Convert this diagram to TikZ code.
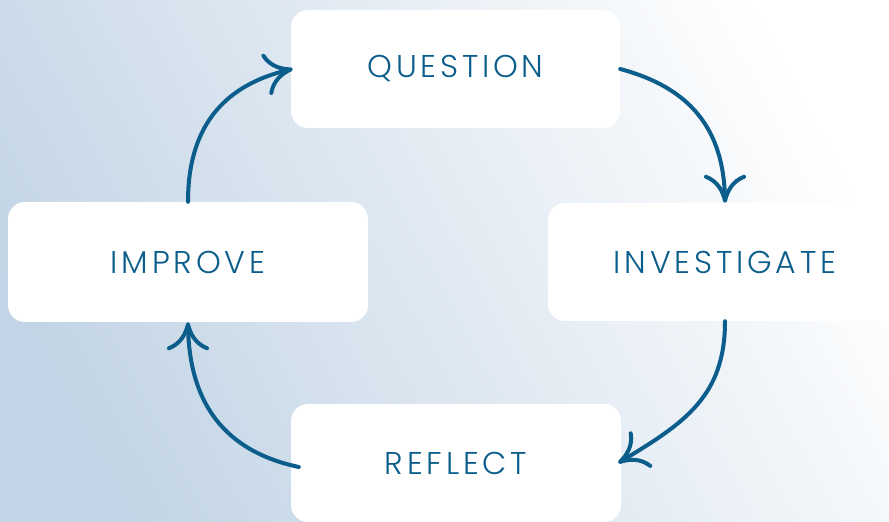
\documentclass[tikz,border=0pt]{standalone}
\usepackage{fontspec}
\newfontfamily\lblfont{Poppins}[UprightFont=* Light, LetterSpace=12]
\usetikzlibrary{arrows.meta,bending}
\definecolor{ink}{RGB}{11,93,139}
\definecolor{bgL}{RGB}{194,212,229}
\definecolor{bgM}{RGB}{228,235,244}
\definecolor{bgR}{RGB}{255,255,255}
\tikzset{
  card/.style={fill=white, draw=none, rounded corners=17pt, inner sep=0pt,
    font=\lblfont\fontsize{31.5}{36}\selectfont, text=ink},
  flow/.style={draw=ink, line width=4pt, line cap=round,
    -{Computer Modern Rightarrow[length=28pt,width=42pt]}}
}
\begin{document}
\begin{tikzpicture}[x=1pt,y=1pt]
\useasboundingbox (0,0) rectangle (889,522);
\clip (0,0) rectangle (889,522);
\shade[left color=bgL, middle color=bgM, right color=bgR, shading angle=118] (-20,-20) rectangle (909,542);
\node[card, minimum width=329pt, minimum height=118pt] (q)   at (455.5,453) {QUESTION};
\node[card, minimum width=354pt, minimum height=118pt] (inv) at (725,260) {INVESTIGATE};
\node[card, minimum width=330pt, minimum height=118pt] (ref) at (456,59) {REFLECT};
\node[card, minimum width=360pt, minimum height=120pt] (imp) at (188,260) {IMPROVE};
\draw[flow] (q.east) to[out=-15, in=90, looseness=1.1] (inv.north);
\draw[flow] (inv.south) to[out=-90, in=31, looseness=1.1] ([xshift=-3pt]ref.east);
\draw[flow] ([xshift=8pt,yshift=-4pt]ref.west) to[out=168, in=-90, looseness=1.1] (imp.south);
\draw[flow] (imp.north) to[out=90, in=192, looseness=1.1] ([xshift=2pt]q.west);
\end{tikzpicture}
\end{document}
